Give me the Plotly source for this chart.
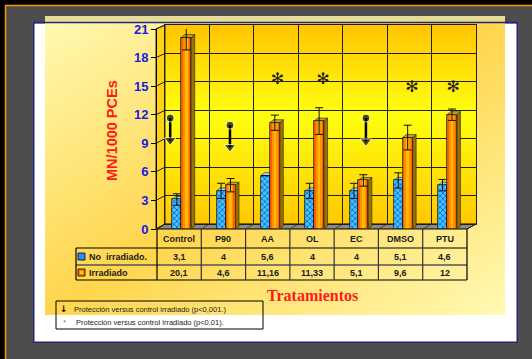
import base64
import plotly.graph_objects as go

# ---------------- data ----------------
categories = ["Control", "P90", "AA", "OL", "EC", "DMSO", "PTU"]
no_irradiado = [3.1, 4, 5.6, 4, 4, 5.1, 4.6]
irradiado = [20.1, 4.6, 11.16, 11.33, 5.1, 9.6, 12]
err_no_irradiado = [0.6, 0.8, None, 0.8, 0.8, 0.8, 0.6]
err_irradiado = [1.3, 0.7, 0.8, 1.4, 0.6, 1.3, 0.6]
series_names = ["No  irradiado.", "Irradiado"]
y_ticks = [0, 3, 6, 9, 12, 15, 18, 21]

# significance marks (category, offset within category, levels)
arrow_cats = ["Control", "P90", "EC"]
arrow_offset = [-0.27, 0.08, 0.15]
arrow_top = [11.65, 10.9, 11.65]
arrow_tip = [8.8, 8.1, 8.7]
star_cats = ["AA", "OL", "DMSO", "PTU"]
star_offset = [0.15, 0.18, 0.19, 0.12]
star_y = [15.6, 15.6, 14.8, 14.8]

footnotes = ["Protección versus control irradiado (p<0,001.)",
             "Protección versus control irradiado (p<0,01)."]
x_title = "Tratamientos"
y_title = "MN/1000 PCEs"

# ---------------- geometry helpers ----------------
W, H = 532, 359


def px(x):
    return x / W


def py(y):
    return 1 - y / H


def svg_uri(svg):
    return "data:image/svg+xml;base64," + base64.b64encode(svg.encode()).decode()


def svg_box(w, h, body, defs=""):
    return (f'<svg xmlns="http://www.w3.org/2000/svg" width="100%" height="100%" '
            f'viewBox="0 0 {w} {h}" preserveAspectRatio="none"><defs>{defs}</defs>{body}</svg>')


def fmt(v):
    return f"{v:g}".replace(".", ",")


FONT = "Liberation Sans, Arial, sans-serif"
n = len(categories)
idx = {c: i for i, c in enumerate(categories)}

# front (bars) axis geometry in px
FX0, FX1 = 160, 470
FY0, FY1 = 229, 29
# back wall geometry in px
BX0, BX1 = 165, 476
BY0, BY1 = 224, 25
# table columns
TX0, TX1 = 157, 467
colw = (TX1 - TX0) / n

fig = go.Figure()

# back wall subplot (grid only)
fig.add_trace(go.Scatter(x=[0, 7], y=[0, 21], mode="markers", marker=dict(opacity=0),
                         hoverinfo="skip", showlegend=False, xaxis="x", yaxis="y"))

BW, OW = 0.2, 0.225
bo, oo = -0.22, -0.02
xs = list(range(n))

fig.add_trace(go.Bar(
    x=xs, y=no_irradiado, width=BW, offset=bo, xaxis="x2", yaxis="y2",
    name=series_names[0], showlegend=False,
    marker=dict(color="#3cc8ff", line=dict(color="#202020", width=0.8),
                pattern=dict(shape="x", fgcolor="#1b4fc4", bgcolor="#3cc8ff", size=4, solidity=0.35)),
    error_y=dict(type="data", array=err_no_irradiado, color="#111", thickness=1, width=4, visible=True),
))
fig.add_trace(go.Bar(x=xs, y=irradiado, width=OW, offset=oo, xaxis="x2", yaxis="y2",
                     showlegend=False, marker=dict(color="#ff6000", line=dict(width=0)), hoverinfo="skip"))
fig.add_trace(go.Bar(x=xs, y=irradiado, width=OW * 0.62, offset=oo + OW * 0.17, xaxis="x2", yaxis="y2",
                     showlegend=False, marker=dict(color="#ff9000", line=dict(width=0)), hoverinfo="skip"))
fig.add_trace(go.Bar(x=xs, y=irradiado, width=OW * 0.25, offset=oo + OW * 0.38, xaxis="x2", yaxis="y2",
                     showlegend=False, marker=dict(color="#ffbb00", line=dict(width=0)), hoverinfo="skip"))
fig.add_trace(go.Bar(
    x=xs, y=irradiado, width=OW, offset=oo, xaxis="x2", yaxis="y2",
    name=series_names[1], showlegend=False,
    marker=dict(color="rgba(0,0,0,0)", line=dict(color="#202020", width=0.8)),
    error_y=dict(type="data", array=err_irradiado, color="#111", thickness=1, width=4, visible=True),
))

# arrows
ax_l, ay_l, ax_m, ay_m, sym = [], [], [], [], []
for c, o, t, b in zip(arrow_cats, arrow_offset, arrow_top, arrow_tip):
    xa = idx[c] + o
    ax_l += [xa, xa, None]
    ay_l += [t, b + 0.5, None]
    ax_m += [xa, xa]
    ay_m += [t, b + 0.5]
    sym += ["circle", "triangle-down"]
fig.add_trace(go.Scatter(x=ax_l, y=ay_l, mode="lines", line=dict(color="#000", width=2.5),
                         xaxis="x2", yaxis="y2", showlegend=False, hoverinfo="skip"))
fig.add_trace(go.Scatter(x=ax_m, y=ay_m, mode="markers",
                         marker=dict(symbol=sym, size=[8, 10] * len(arrow_cats), color="#000"),
                         xaxis="x2", yaxis="y2", showlegend=False, hoverinfo="skip"))
# asterisks
fig.add_trace(go.Scatter(x=[idx[c] + o for c, o in zip(star_cats, star_offset)], y=star_y,
                         mode="text", text=["✻"] * len(star_cats),
                         textfont=dict(family="DejaVu Sans", size=16, color="#222"),
                         xaxis="x2", yaxis="y2", showlegend=False, hoverinfo="skip"))

# ---------------- images (backgrounds) ----------------
images = []
pw, ph = 485, 321
svg_white = svg_box(pw, ph, f'<rect x="0.75" y="0.75" width="{pw-1.5}" height="{ph-1.5}" '
                            'fill="#ffffff" stroke="#23237a" stroke-width="1.5"/>')
images.append(dict(source=svg_uri(svg_white), xref="paper", yref="paper", x=px(33), y=py(22),
                   sizex=pw / W, sizey=ph / H, xanchor="left", yanchor="top", sizing="stretch", layer="below"))
yw, yh = 460, 299
svg_yellow = svg_box(yw, yh, f'<rect width="{yw}" height="{yh}" fill="url(#g)"/>',
                     '<linearGradient id="g" x1="0" y1="0" x2="1" y2="1">'
                     '<stop offset="0" stop-color="#fffab4"/><stop offset="0.5" stop-color="#ffd54c"/>'
                     '<stop offset="1" stop-color="#fffab4"/></linearGradient>')
images.append(dict(source=svg_uri(svg_yellow), xref="paper", yref="paper", x=px(45), y=py(16),
                   sizex=yw / W, sizey=yh / H, xanchor="left", yanchor="top", sizing="stretch", layer="below"))
ww, wh = BX1 - BX0, BY0 - BY1
svg_wall = svg_box(ww, wh, f'<rect width="{ww}" height="{wh}" fill="url(#w)"/>',
                   '<linearGradient id="w" x1="0" y1="0" x2="0" y2="1">'
                   '<stop offset="0" stop-color="#ffc400"/><stop offset="0.45" stop-color="#ffff10"/>'
                   '<stop offset="1" stop-color="#ffc800"/></linearGradient>')
images.append(dict(source=svg_uri(svg_wall), xref="paper", yref="paper", x=px(BX0), y=py(BY1),
                   sizex=ww / W, sizey=wh / H, xanchor="left", yanchor="top", sizing="stretch", layer="below"))

# ---------------- shapes ----------------
shapes = []


def rect(x0, y0, x1, y1, fill=None, line=None, lw=1, layer="below"):
    shapes.append(dict(type="rect", xref="paper", yref="paper", x0=px(x0), x1=px(x1), y0=py(y1), y1=py(y0),
                       fillcolor=fill or "rgba(0,0,0,0)", line=dict(color=line or "rgba(0,0,0,0)", width=lw if line else 0),
                       layer=layer))


def seg(x0, y0, x1, y1, color="#000", lw=1, layer="below"):
    shapes.append(dict(type="line", xref="paper", yref="paper", x0=px(x0), x1=px(x1), y0=py(y0), y1=py(y1),
                       line=dict(color=color, width=lw), layer=layer))


def poly(pts, fill, color="#000", lw=0.8, layer="below"):
    path = "M " + " L ".join(f"{px(a):.5f},{py(b):.5f}" for a, b in pts) + " Z"
    shapes.append(dict(type="path", xref="paper", yref="paper", path=path, fillcolor=fill,
                       line=dict(color=color, width=lw), layer=layer))


# frame
rect(0, 0, W, 5, fill="#000")
rect(0, 0, 5, H, fill="#000")
seg(5, 5.5, W, 5.5, color="#ff9900", lw=1.5)
seg(5.5, 5, 5.5, H, color="#ff9900", lw=1.5)
# dithered strip on top of yellow area and navy top border
rect(45, 16, 505, 21.5, fill="#e6dc9a")
seg(33, 22.5, 517, 22.5, color="#23237a", lw=1.5)

# left wall
poly([(156, FY1), (BX0, BY1), (BX0, BY0), (156, FY0)], fill="#ffd21a")
for t in y_ticks:
    yf = FY0 - (FY0 - FY1) * t / 21
    yb = BY0 - (BY0 - BY1) * t / 21
    seg(156, yf, BX0, yb, color="#222", lw=1)
# floor
poly([(TX0, FY0), (BX0, BY0), (BX1, BY0), (TX1, FY0)], fill="#8a8a8a", lw=1)
for k in range(n + 1):
    seg(TX0 + colw * k, FY0, BX0 + (BX1 - BX0) / n * k, BY0, color="#333", lw=0.8)

# table
row_y = [FY0, 248, 265, 280]
seg(76, row_y[1], TX1, row_y[1], lw=1.2)
seg(76, row_y[2], TX1, row_y[2], color="#555", lw=1.5)
seg(76, row_y[3], TX1, row_y[3], lw=1.2)
seg(76, row_y[1], 76, row_y[3], lw=1.2)
for k in range(n + 1):
    seg(TX0 + colw * k, row_y[0], TX0 + colw * k, row_y[3], color="#333" if 0 < k < n else "#000", lw=1.2)
# legend keys
rect(78, 253, 85, 260, fill="#2f8cff", line="#000", lw=0.8)
rect(78, 269, 85, 276, fill="#ff7a00", line="#000", lw=0.8)
rect(80, 271, 83, 274, fill="#ffd000")
# footnote box
rect(56, 301, 263, 329, line="#000", lw=1)

# 3D faces on bars (depth offsets derived from axis scales)
dx = 3.5 / ((FX1 - FX0) / n)
dy = 3.0 / ((FY0 - FY1) / 21)


def face(pts, fill):
    path = "M " + " L ".join(f"{a:.4f},{b:.4f}" for a, b in pts) + " Z"
    shapes.append(dict(type="path", xref="x2", yref="y2", path=path, fillcolor=fill,
                       line=dict(color="#202020", width=0.6), layer="between"))


for k in range(n):
    for v, off, w, top_c, side_c in [(no_irradiado[k], bo, BW, "#86e0ff", "#0d6fa0"),
                                      (irradiado[k], oo, OW, "#c9a22c", "#9a7400")]:
        x0 = k + off
        x1 = x0 + w
        face([(x1, 0), (x1, v), (x1 + dx, v + dy), (x1 + dx, dy)], side_c)
        face([(x0, v), (x1, v), (x1 + dx, v + dy), (x0 + dx, v + dy)], top_c)

# ---------------- annotations ----------------
ann = []


def text(x, y, s, size, color="#1a1a1a", family=FONT, xanchor="center", angle=0):
    ann.append(dict(x=px(x), y=py(y), xref="paper", yref="paper", text=s, showarrow=False,
                    font=dict(family=family, size=size, color=color), xanchor=xanchor, yanchor="middle",
                    textangle=angle))


for k, c in enumerate(categories):
    cx = TX0 + colw * (k + 0.5)
    text(cx, 239, f"<b>{c}</b>", 9)
    text(cx, 256.5, f"<b>{fmt(no_irradiado[k])}</b>", 9)
    text(cx, 272.5, f"<b>{fmt(irradiado[k])}</b>", 9)
text(87, 256.5, f"<b>{series_names[0].replace(' ', '&nbsp;')}</b>", 9, xanchor="left")
text(87, 272.5, f"<b>{series_names[1]}</b>", 9, xanchor="left")
text(112, 131, f"<b>{y_title}</b>", 14.5, color="#ff1a1a", angle=-90)
text(312, 295, f"<b>{x_title}</b>", 16, color="#ff1a1a", family="Liberation Serif, Times New Roman, serif")
text(64, 309, "<b>↓</b>", 9, color="#000", family="DejaVu Sans")
text(72, 309, footnotes[0], 7.5, color="#222", xanchor="left")
text(64, 322, "*", 8, color="#777")
text(74, 322, footnotes[1], 7.5, color="#222", xanchor="left")

noauto = dict(automargin=False)
fig.update_layout(
    template="none",
    width=W, height=H, margin=dict(l=0, r=0, t=0, b=0, pad=0, autoexpand=False),
    paper_bgcolor="#4d4d4d", plot_bgcolor="rgba(0,0,0,0)",
    barmode="overlay", bargap=0,
    xaxis=dict(domain=[px(BX0), px(BX1)], range=[0, 7], dtick=1, tick0=0, showgrid=True,
               gridcolor="#1f1f1f", gridwidth=1, zeroline=False, showticklabels=False, ticks="",
               showline=True, mirror=True, linecolor="#1f1f1f", linewidth=1, anchor="y", fixedrange=True, **noauto),
    yaxis=dict(domain=[py(BY0), py(BY1)], range=[0, 21], dtick=3, tick0=0, showgrid=True,
               gridcolor="#1f1f1f", gridwidth=1, zeroline=False, showticklabels=False, ticks="",
               showline=True, mirror=True, linecolor="#1f1f1f", linewidth=1, anchor="x", fixedrange=True, **noauto),
    xaxis2=dict(domain=[px(FX0), px(FX1)], range=[-0.5, n - 0.5], showgrid=False, zeroline=False,
                showticklabels=False, ticks="", showline=False, anchor="y2", fixedrange=True, **noauto),
    yaxis2=dict(domain=[py(FY0), py(FY1)], range=[0, 21], anchor="free", position=px(156),
                tickvals=y_ticks, ticktext=[f"<b>{t}</b>" for t in y_ticks],
                tickfont=dict(family=FONT, size=13, color="#1a1ae6"),
                ticks="outside", ticklen=5, tickcolor="#000", showline=True, linecolor="#000", linewidth=1,
                showgrid=False, zeroline=False, fixedrange=True, **noauto),
    images=images, shapes=shapes, annotations=ann,
)

fig.write_html("out.html")
